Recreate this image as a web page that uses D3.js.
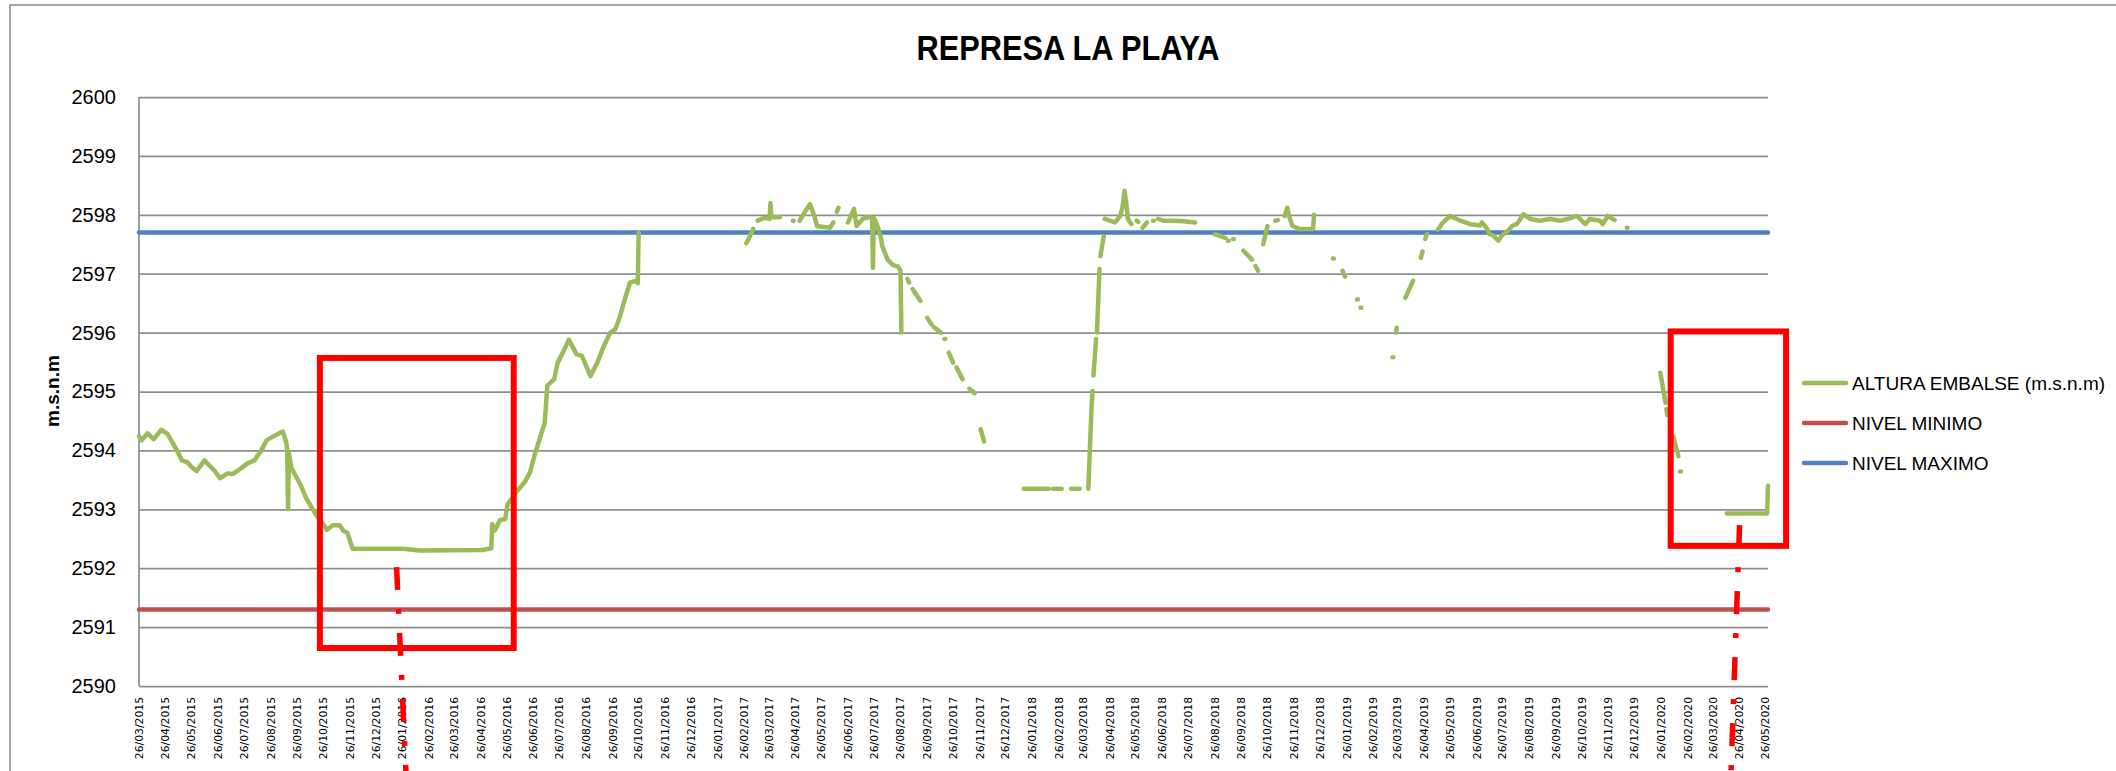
<!DOCTYPE html>
<html>
<head>
<meta charset="utf-8">
<script src="https://cdn.jsdelivr.net/npm/d3@7"></script>
<style>
  body { margin: 0; background: #fff; }
  text { font-family: "Liberation Sans", Arial, sans-serif; }
</style>
</head>
<body>
<svg id="chart"></svg>
<script>
const width = 2116;
const height = 771;

// etiquetas del eje X (una por mes)
const tickLabels = [
  "26/03/2015", "26/04/2015", "26/05/2015", "26/06/2015", "26/07/2015", "26/08/2015",
  "26/09/2015", "26/10/2015", "26/11/2015", "26/12/2015",
  "26/01/2016", "26/02/2016", "26/03/2016", "26/04/2016", "26/05/2016", "26/06/2016",
  "26/07/2016", "26/08/2016", "26/09/2016", "26/10/2016", "26/11/2016", "26/12/2016",
  "26/01/2017", "26/02/2017", "26/03/2017", "26/04/2017", "26/05/2017", "26/06/2017",
  "26/07/2017", "26/08/2017", "26/09/2017", "26/10/2017", "26/11/2017", "26/12/2017",
  "26/01/2018", "26/02/2018", "26/03/2018", "26/04/2018", "26/05/2018", "26/06/2018",
  "26/07/2018", "26/08/2018", "26/09/2018", "26/10/2018", "26/11/2018", "26/12/2018",
  "26/01/2019", "26/02/2019", "26/03/2019", "26/04/2019", "26/05/2019", "26/06/2019",
  "26/07/2019", "26/08/2019", "26/09/2019", "26/10/2019", "26/11/2019", "26/12/2019",
  "26/01/2020", "26/02/2020", "26/03/2020", "26/04/2020", "26/05/2020"
];

const yTicks = [2590, 2591, 2592, 2593, 2594, 2595, 2596, 2597, 2598, 2599, 2600];

const nivelMinimo = 2591.3;
const nivelMaximo = 2597.7;

// altura embalse, null = sin dato
const alturaEmbalse = [
  ["2015-03-26", 2594.24], ["2015-03-29", 2594.17], ["2015-04-05", 2594.29], ["2015-04-12", 2594.19],
  ["2015-04-21", 2594.35], ["2015-04-28", 2594.28], ["2015-05-08", 2594.03], ["2015-05-15", 2593.83],
  ["2015-05-21", 2593.80], ["2015-05-26", 2593.72], ["2015-06-01", 2593.65], ["2015-06-10", 2593.83],
  ["2015-06-22", 2593.65], ["2015-06-28", 2593.53], ["2015-07-07", 2593.61], ["2015-07-13", 2593.60],
  ["2015-07-21", 2593.68], ["2015-07-30", 2593.78], ["2015-08-07", 2593.83], ["2015-08-15", 2594.00],
  ["2015-08-21", 2594.17], ["2015-08-28", 2594.23], ["2015-09-09", 2594.32], ["2015-09-13", 2594.13],
  ["2015-09-14", 2594.02], ["2015-09-15", 2593.00], ["2015-09-16", 2593.95], ["2015-09-19", 2593.70],
  ["2015-09-29", 2593.43], ["2015-10-06", 2593.19], ["2015-10-13", 2593.02], ["2015-10-19", 2592.87],
  ["2015-10-24", 2592.79], ["2015-10-30", 2592.65], ["2015-11-06", 2592.73], ["2015-11-14", 2592.73],
  ["2015-11-18", 2592.64], ["2015-11-23", 2592.60], ["2015-11-29", 2592.33], ["2016-01-26", 2592.33],
  ["2016-02-15", 2592.30], ["2016-04-28", 2592.31], ["2016-05-08", 2592.34], ["2016-05-09", 2592.75],
  ["2016-05-12", 2592.64], ["2016-05-18", 2592.82], ["2016-05-24", 2592.83], ["2016-05-27", 2593.09],
  ["2016-06-06", 2593.29], ["2016-06-16", 2593.47], ["2016-06-22", 2593.63], ["2016-06-27", 2593.91],
  ["2016-07-03", 2594.19], ["2016-07-09", 2594.47], ["2016-07-12", 2595.10], ["2016-07-20", 2595.21],
  ["2016-07-24", 2595.49], ["2016-07-30", 2595.66], ["2016-08-06", 2595.88], ["2016-08-15", 2595.63],
  ["2016-08-21", 2595.61], ["2016-08-31", 2595.26], ["2016-09-08", 2595.49], ["2016-09-15", 2595.75],
  ["2016-09-23", 2596.00], ["2016-09-29", 2596.06], ["2016-10-04", 2596.26], ["2016-10-10", 2596.57],
  ["2016-10-16", 2596.85], ["2016-10-22", 2596.88], ["2016-10-25", 2596.84], ["2016-10-26", 2597.70],
  null,
  ["2017-02-28", 2597.52], ["2017-03-02", 2597.57], ["2017-03-08", 2597.76],
  null,
  ["2017-03-13", 2597.90], ["2017-03-18", 2597.93], ["2017-03-22", 2597.95], ["2017-03-27", 2597.93],
  ["2017-03-28", 2598.20], ["2017-03-29", 2597.96], ["2017-04-08", 2597.96],
  null,
  ["2017-04-23", 2597.90], ["2017-04-24", 2597.90],
  null,
  ["2017-05-01", 2597.90], ["2017-05-07", 2598.05], ["2017-05-13", 2598.18], ["2017-05-18", 2597.98],
  ["2017-05-21", 2597.81], ["2017-06-05", 2597.78], ["2017-06-09", 2597.87],
  null,
  ["2017-06-13", 2598.05], ["2017-06-15", 2598.12],
  null,
  ["2017-06-26", 2597.87], ["2017-07-03", 2598.10], ["2017-07-06", 2597.81], ["2017-07-13", 2597.93],
  ["2017-07-19", 2597.96], ["2017-07-24", 2597.95], ["2017-07-25", 2597.10], ["2017-07-26", 2597.95],
  ["2017-07-30", 2597.82], ["2017-08-03", 2597.63], ["2017-08-05", 2597.46], ["2017-08-11", 2597.24],
  ["2017-08-17", 2597.15], ["2017-08-23", 2597.12], ["2017-08-26", 2597.05], ["2017-08-27", 2596.00],
  null,
  ["2017-09-03", 2596.91], ["2017-09-05", 2596.85],
  null,
  ["2017-09-09", 2596.74], ["2017-09-18", 2596.54],
  null,
  ["2017-09-26", 2596.25], ["2017-10-01", 2596.14],
  null,
  ["2017-10-04", 2596.09], ["2017-10-12", 2596.00],
  null,
  ["2017-10-16", 2595.89], ["2017-10-17", 2595.89],
  null,
  ["2017-10-21", 2595.66], ["2017-10-26", 2595.49],
  null,
  ["2017-10-30", 2595.41], ["2017-11-06", 2595.21],
  null,
  ["2017-11-14", 2595.05], ["2017-11-20", 2594.97],
  null,
  ["2017-11-27", 2594.36], ["2017-12-01", 2594.15],
  null,
  ["2018-01-16", 2593.35], ["2018-02-14", 2593.35],
  null,
  ["2018-02-19", 2593.35], ["2018-03-01", 2593.35],
  null,
  ["2018-03-12", 2593.35], ["2018-03-22", 2593.35],
  null,
  ["2018-04-01", 2593.35], ["2018-04-05", 2594.81], ["2018-04-06", 2595.01],
  null,
  ["2018-04-07", 2595.27], ["2018-04-10", 2595.89],
  null,
  ["2018-04-11", 2596.00], ["2018-04-14", 2597.08],
  null,
  ["2018-04-15", 2597.30], ["2018-04-19", 2597.64],
  null,
  ["2018-04-20", 2597.93], ["2018-04-26", 2597.90], ["2018-05-02", 2597.87], ["2018-05-08", 2597.98],
  ["2018-05-11", 2598.15], ["2018-05-13", 2598.41], ["2018-05-15", 2598.21], ["2018-05-17", 2597.93],
  ["2018-05-21", 2597.84],
  null,
  ["2018-05-27", 2597.90], ["2018-05-29", 2597.88],
  null,
  ["2018-06-03", 2597.78], ["2018-06-08", 2597.87],
  null,
  ["2018-06-15", 2597.90], ["2018-06-16", 2597.90],
  null,
  ["2018-06-21", 2597.93], ["2018-06-27", 2597.90], ["2018-07-08", 2597.90], ["2018-07-20", 2597.89],
  ["2018-08-03", 2597.87],
  null,
  ["2018-08-26", 2597.67], ["2018-09-07", 2597.61],
  null,
  ["2018-09-10", 2597.56], ["2018-09-11", 2597.56],
  null,
  ["2018-09-16", 2597.59], ["2018-09-17", 2597.59],
  null,
  ["2018-09-28", 2597.39], ["2018-10-08", 2597.24],
  null,
  ["2018-10-12", 2597.13], ["2018-10-15", 2597.05],
  null,
  ["2018-10-21", 2597.50], ["2018-10-26", 2597.81],
  null,
  ["2018-11-04", 2597.90], ["2018-11-07", 2597.91],
  null,
  ["2018-11-15", 2597.98], ["2018-11-18", 2598.12], ["2018-11-20", 2597.98], ["2018-11-24", 2597.81],
  ["2018-12-02", 2597.76], ["2018-12-13", 2597.76], ["2018-12-18", 2597.76], ["2018-12-19", 2598.00],
  null,
  ["2019-01-10", 2597.26], ["2019-01-11", 2597.26],
  null,
  ["2019-01-21", 2597.05], ["2019-01-24", 2596.95],
  null,
  ["2019-02-07", 2596.56], ["2019-02-08", 2596.56],
  null,
  ["2019-02-11", 2596.42], ["2019-02-12", 2596.42],
  null,
  ["2019-03-20", 2595.58], ["2019-03-21", 2595.58],
  null,
  ["2019-03-24", 2596.00], ["2019-03-25", 2596.08],
  null,
  ["2019-04-04", 2596.59], ["2019-04-13", 2596.88],
  null,
  ["2019-04-22", 2597.27], ["2019-04-24", 2597.38],
  null,
  ["2019-04-27", 2597.59], ["2019-04-29", 2597.67],
  null,
  ["2019-05-12", 2597.75], ["2019-05-17", 2597.86], ["2019-05-26", 2597.98], ["2019-06-07", 2597.90],
  ["2019-06-18", 2597.84], ["2019-06-30", 2597.82], ["2019-07-02", 2597.87], ["2019-07-08", 2597.76],
  ["2019-07-11", 2597.67], ["2019-07-15", 2597.65], ["2019-07-21", 2597.56], ["2019-07-25", 2597.65],
  ["2019-08-01", 2597.73], ["2019-08-06", 2597.81], ["2019-08-12", 2597.85], ["2019-08-19", 2598.01],
  ["2019-08-27", 2597.93], ["2019-09-07", 2597.90], ["2019-09-19", 2597.93], ["2019-10-01", 2597.90],
  ["2019-10-12", 2597.94], ["2019-10-20", 2597.98], ["2019-10-30", 2597.84], ["2019-11-04", 2597.93],
  ["2019-11-16", 2597.90], ["2019-11-19", 2597.84], ["2019-11-25", 2597.98], ["2019-12-03", 2597.91],
  null,
  ["2019-12-17", 2597.78], ["2019-12-18", 2597.78],
  null,
  ["2020-01-25", 2595.32], ["2020-01-31", 2594.81],
  null,
  ["2020-02-01", 2594.70], ["2020-02-02", 2594.60],
  null,
  ["2020-02-09", 2594.24], ["2020-02-15", 2593.90],
  null,
  ["2020-02-17", 2593.64], ["2020-02-18", 2593.64],
  null,
  ["2020-04-11", 2592.93], ["2020-05-28", 2592.93], ["2020-05-29", 2593.40]
];

const legendItems = ["ALTURA EMBALSE (m.s.n.m)", "NIVEL MINIMO", "NIVEL MAXIMO"];

// marcas rojas (fecha, valor) dibujadas encima
const recuadros = [
  { from: "2015-10-22", to: "2016-06-03", top: 2595.57, bottom: 2590.645 },
  { from: "2020-02-06", to: "2020-06-19", top: 2596.02, bottom: 2592.38 }
];
const flechas = [
  [["2016-01-19", 2592.02], ["2016-01-30", 2588.5]],
  [["2020-04-26", 2592.73], ["2020-04-16", 2588.5]]
];

const colors = {
  altura: "#9BBB59",
  minimo: "#C0504D",
  maximo: "#4F81BD",
  grid: "#8f8f8f",
  mark: "#FF0000"
};

const parse = d3.timeParse("%Y-%m-%d");
const parseTick = d3.timeParse("%d/%m/%Y");

const plotLeft = 139, plotRight = 1768, plotTop = 97, plotBottom = 686;

const x = d3.scaleTime()
  .domain([parse("2015-03-26"), parse("2020-05-29")])
  .range([plotLeft, plotRight]);

const y = d3.scaleLinear()
  .domain([2590, 2600])
  .range([plotBottom, plotTop]);

const svg = d3.select("#chart")
  .attr("width", width)
  .attr("height", height)
  .style("display", "block");

svg.append("rect")
  .attr("width", width).attr("height", height)
  .attr("fill", "#fff");

// marco del grafico
svg.append("rect")
  .attr("x", 10).attr("y", 5)
  .attr("width", 2300).attr("height", 1000)
  .attr("fill", "none")
  .attr("stroke", "#8a8a8a")
  .attr("stroke-width", 1.5);

// titulo
svg.append("text")
  .attr("x", 1068).attr("y", 60)
  .attr("text-anchor", "middle")
  .attr("font-weight", "bold")
  .attr("font-size", 35)
  .attr("textLength", 303)
  .attr("lengthAdjust", "spacingAndGlyphs")
  .text("REPRESA LA PLAYA");

// eje Y con lineas de cuadricula
const yAxis = svg.append("g")
  .attr("transform", `translate(${plotLeft},0)`)
  .call(d3.axisLeft(y).tickValues(yTicks).tickSize(-(plotRight - plotLeft)).tickPadding(23).tickFormat(d3.format("d")));

yAxis.select(".domain").remove();
yAxis.selectAll(".tick line")
  .attr("stroke", colors.grid)
  .attr("stroke-width", 1.75);
yAxis.selectAll(".tick text")
  .attr("font-family", "Liberation Sans, Arial, sans-serif")
  .attr("font-size", 20)
  .attr("fill", "#000");

svg.append("line")
  .attr("x1", plotLeft).attr("x2", plotLeft)
  .attr("y1", plotTop).attr("y2", plotBottom)
  .attr("stroke", colors.grid)
  .attr("stroke-width", 1.75);

svg.append("text")
  .attr("transform", `translate(59,391) rotate(-90)`)
  .attr("text-anchor", "middle")
  .attr("font-weight", "bold")
  .attr("font-size", 19)
  .text("m.s.n.m");

// etiquetas del eje X
svg.append("g")
  .selectAll("text")
  .data(tickLabels)
  .enter().append("text")
  .attr("transform", d => `translate(${x(parseTick(d))},697) rotate(-90)`)
  .attr("text-anchor", "end")
  .attr("dy", "0.35em")
  .style("font-family", "DejaVu Sans, Verdana, sans-serif")
  .attr("font-size", 10.8)
  .attr("fill", "#000")
  .text(d => d);

// niveles
const niveles = [
  { v: nivelMinimo, c: colors.minimo },
  { v: nivelMaximo, c: colors.maximo }
];
svg.append("g")
  .selectAll("line")
  .data(niveles)
  .enter().append("line")
  .attr("x1", plotLeft).attr("x2", plotRight)
  .attr("y1", d => y(d.v)).attr("y2", d => y(d.v))
  .attr("stroke", d => d.c)
  .attr("stroke-width", 4.5)
  .attr("stroke-linecap", "round");

// serie altura
const line = d3.line()
  .defined(d => d)
  .x(d => x(parse(d[0])))
  .y(d => y(d[1]));

svg.append("path")
  .datum(alturaEmbalse)
  .attr("d", line)
  .attr("fill", "none")
  .attr("stroke", colors.altura)
  .attr("stroke-width", 4.5)
  .attr("stroke-linecap", "round")
  .attr("stroke-linejoin", "round");

// leyenda
const legendColors = [colors.altura, colors.minimo, colors.maximo];
const legend = svg.append("g")
  .selectAll("g")
  .data(legendItems)
  .enter().append("g")
  .attr("transform", (d, i) => `translate(1804,${383 + i * 40})`);

legend.append("line")
  .attr("x1", 0).attr("x2", 42)
  .attr("stroke", (d, i) => legendColors[i])
  .attr("stroke-width", 4.5)
  .attr("stroke-linecap", "round");

legend.append("text")
  .attr("x", 48)
  .attr("dy", "0.36em")
  .attr("font-size", 19)
  .text(d => d);

// marcas rojas
svg.append("g")
  .selectAll("rect")
  .data(recuadros)
  .enter().append("rect")
  .attr("x", d => x(parse(d.from)))
  .attr("y", d => y(d.top))
  .attr("width", d => x(parse(d.to)) - x(parse(d.from)))
  .attr("height", d => y(d.bottom) - y(d.top))
  .attr("fill", "none")
  .attr("stroke", colors.mark)
  .attr("stroke-width", 6);

svg.append("g")
  .selectAll("line")
  .data(flechas)
  .enter().append("line")
  .attr("x1", d => x(parse(d[0][0]))).attr("y1", d => y(d[0][1]))
  .attr("x2", d => x(parse(d[1][0]))).attr("y2", d => y(d[1][1]))
  .attr("stroke", colors.mark)
  .attr("stroke-width", 5.5)
  .attr("stroke-dasharray", "23 19 5 19");
</script>
</body>
</html>
